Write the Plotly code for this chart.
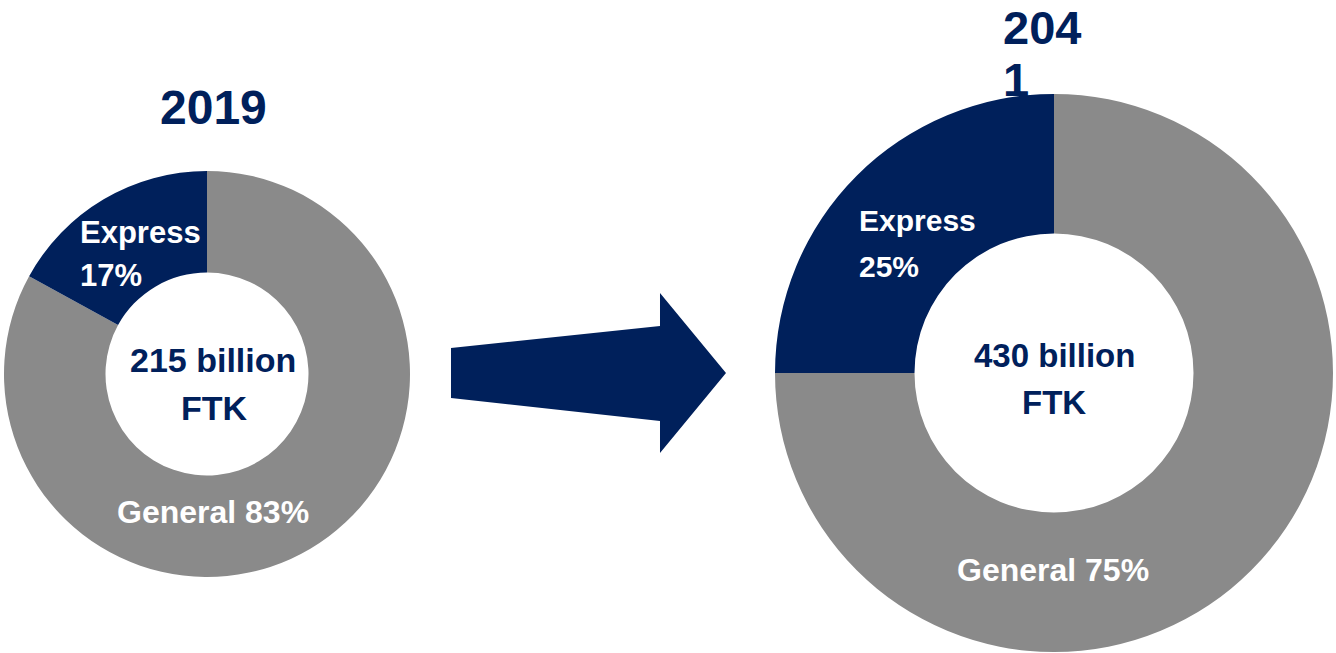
import plotly.graph_objects as go

# ---- data ----
categories = ["Express", "General"]
years = ["2019", "2041"]
share_2019 = [17, 83]
share_2041 = [25, 75]
totals_billion_ftk = [215, 430]

NAVY = "#00205B"
GRAY = "#8A8A8A"
W, H = 1336, 653
FONT = "Arial, Liberation Sans, sans-serif"
colors = {"Express": NAVY, "General": GRAY}


def px(x):
    return x / W


def py(y):
    return 1 - y / H


fig = go.Figure()

domains = [
    dict(x=[px(4), px(410)], y=[py(577), py(171)]),
    dict(x=[px(775), px(1333)], y=[py(652), py(94)]),
]
for vals, dom in zip([share_2019, share_2041], domains):
    # General drawn clockwise from 12 o'clock, so Express ends up left of 12 o'clock
    labs = categories[::-1]
    fig.add_trace(go.Pie(
        labels=labs, values=vals[::-1], hole=0.5, sort=False,
        direction="clockwise", rotation=0,
        marker=dict(colors=[colors[c] for c in labs], line=dict(width=0)),
        textinfo="none", hoverinfo="label+percent", domain=dom,
        showlegend=False,
    ))

ann = []


def add(text, x, y, size, color, xanchor="center"):
    ann.append(dict(text=f"<b>{text}</b>", x=px(x), y=py(y), xref="paper", yref="paper",
                    xanchor=xanchor, yanchor="middle", showarrow=False,
                    font=dict(family=FONT, size=size, color=color)))


# 2019 donut
add(years[0], 213, 108, 48, NAVY)
add(categories[0], 78, 232, 31, "white", "left")
add(f"{share_2019[0]}%", 78, 275, 31, "white", "left")
add(f"{totals_billion_ftk[0]} billion", 213, 360, 34, NAVY)
add("FTK", 214, 408, 34, NAVY)
add(f"{categories[1]} {share_2019[1]}%", 213, 512, 32, "white")

# 2041 donut (year label wraps in the original)
add(years[1][:3], 1001, 28, 47, NAVY, "left")
add(years[1][3:], 1001, 80, 47, NAVY, "left")
add(categories[0], 857, 220, 30, "white", "left")
add(f"{share_2041[0]}%", 857, 266, 30, "white", "left")
add(f"{totals_billion_ftk[1]} billion", 1054, 355, 33, NAVY)
add("FTK", 1054, 402, 33, NAVY)
add(f"{categories[1]} {share_2041[1]}%", 1053, 570, 32, "white")

# arrow between the donuts
pts = [(451, 348), (660, 326), (660, 293), (726, 373), (660, 453), (660, 421), (451, 398)]
path = "M " + " L ".join(f"{px(x):.5f},{py(y):.5f}" for x, y in pts) + " Z"

fig.update_layout(
    width=W, height=H,
    margin=dict(l=0, r=0, t=0, b=0),
    paper_bgcolor="white", plot_bgcolor="white",
    annotations=ann,
    shapes=[dict(type="path", path=path, xref="paper", yref="paper",
                 fillcolor=NAVY, line=dict(width=0))],
)

fig.write_html("out.html", config={"displayModeBar": False},
               post_script="document.body.style.margin='0';document.body.style.overflow='hidden';")
